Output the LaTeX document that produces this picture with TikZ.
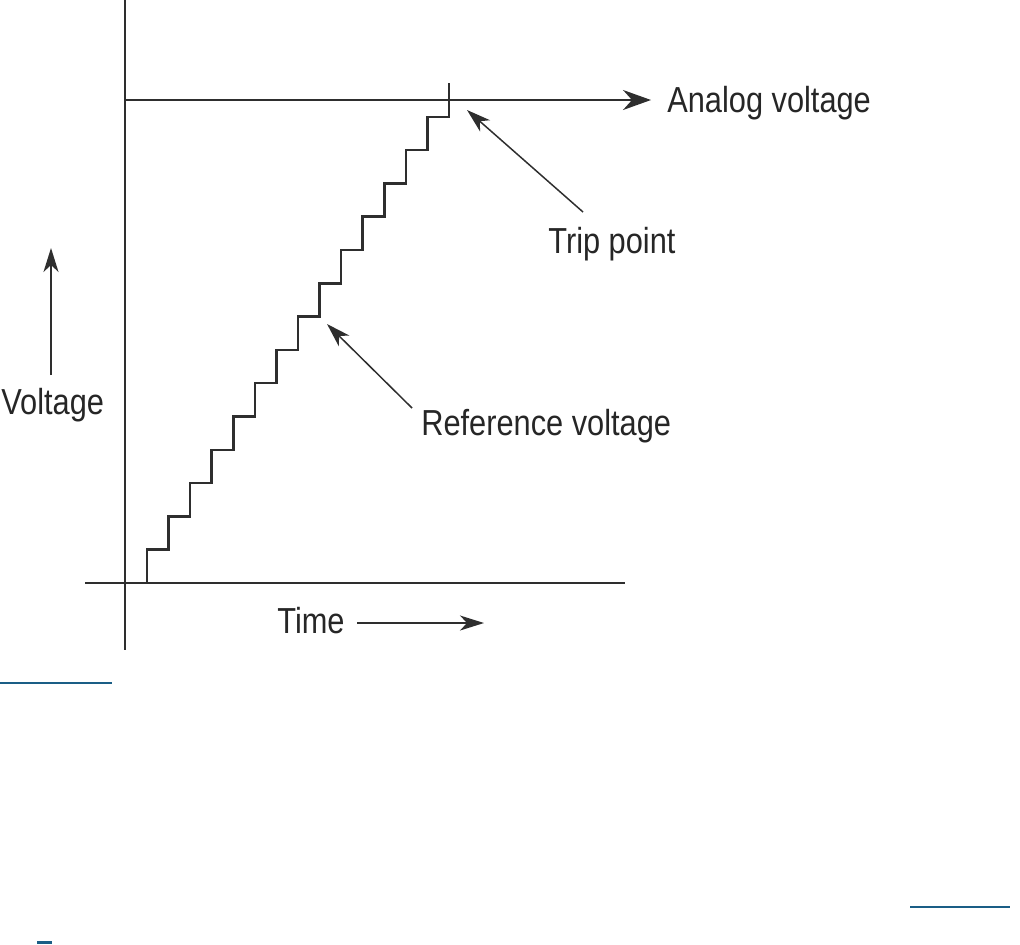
\documentclass[tikz,border=0pt]{standalone}
\usepackage{fontspec}
\setmainfont{Liberation Sans}[FakeStretch=0.85]
\usetikzlibrary{arrows.meta}
\definecolor{linkblue}{HTML}{1A5E86}
\definecolor{ink}{HTML}{2E2E2E}
\tikzset{
  % line styles
  axisline/.style={draw=ink, line width=1.1pt},
  stair/.style={draw=ink, line width=1.4pt, line join=miter},
  bigarrow/.style={axisline, -{Stealth[length=5.6mm, width=4mm, inset=1.8mm]}},
  leader/.style={draw=ink, line width=0.85pt, -{Stealth[length=4.8mm, width=3mm, inset=1.4mm]}},
  % text
  lbl/.style={font=\fontsize{20.6}{24}\selectfont, text=black!85, inner sep=0pt, anchor=base west},
}
\begin{document}
\begin{tikzpicture}[x=0.02cm, y=-0.02cm]
    \useasboundingbox (0,0) rectangle (1020,944);

    % Axes
    \coordinate (vtop) at (125,0);
    \coordinate (vbot) at (125,650);
    \coordinate (hleft) at (85,583);
    \coordinate (hright) at (625,583);
    \draw[axisline] (vtop) -- (vbot);
    \draw[axisline] (hleft) -- (hright);

    % Analog voltage level
    \node[lbl] (analog) at (667,112) {Analog voltage};
    \coordinate (alevel) at (125,100);
    \coordinate (atip) at (651,100);
    \draw[bigarrow] (alevel) -- (atip);

    % Reference voltage staircase
    \coordinate (s0) at (147,583);
    \draw[stair] (s0) \foreach \k in {1,...,14} {-- ++(0,-33.3) -- ++(21.57,0)} -- ++(0,-34);

    % Labels with leaders
    \node[lbl] (trip) at (548,253) {Trip point};
    \coordinate (tripfrom) at (583,212);
    \coordinate (tripto) at (467,110);
    \draw[leader] (tripfrom) -- (tripto);

    \node[lbl] (ref) at (421,435) {Reference voltage};
    \coordinate (reffrom) at (412,408);
    \coordinate (refto) at (327,324);
    \draw[leader] (reffrom) -- (refto);

    \node[lbl] (volt) at (1,414) {Voltage};
    \coordinate (voltfrom) at (51,375);
    \coordinate (voltto) at (51,248);
    \draw[leader] (voltfrom) -- (voltto);

    \node[lbl] (time) at (277,633) {Time};
    \coordinate (timefrom) at (357,623);
    \coordinate (timeto) at (484,623);
    \draw[leader] (timefrom) -- (timeto);

    % Page rules
    \draw[linkblue, line width=0.6pt] (0,683) -- (112,683);
    \draw[linkblue, line width=1.2pt] (910,907) -- (1010,907);
    \fill[linkblue] (37,941) rectangle (52,944);
\end{tikzpicture}
\end{document}
